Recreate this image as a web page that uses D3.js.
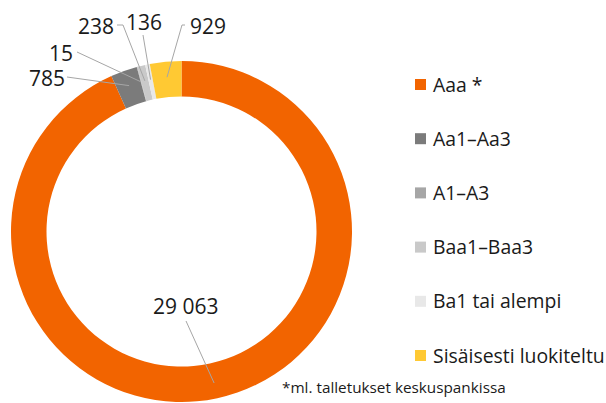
<!DOCTYPE html>
<html>
<head>
<meta charset="utf-8">
<script src="https://cdn.jsdelivr.net/npm/d3@7"></script>
<style>
  body { margin: 0; background: #fff; }
  text { font-family: "Open Sans", sans-serif; fill: #1a1a1a; }
</style>
</head>
<body>
<div id="chart"></div>
<script>
// data
var categories = ["Aaa *", "Aa1–Aa3", "A1–A3", "Baa1–Baa3", "Ba1 tai alempi", "Sisäisesti luokiteltu"];
var values = [29063, 785, 15, 238, 136, 929];
var colors = ["#f26400", "#7b7b7b", "#a6a6a6", "#c9c9c9", "#e8e8e8", "#ffc933"];
var footnote = "*ml. talletukset keskuspankissa";

// label layout (text start x, baseline y) and leader start points
var labelPos = [[153, 314], [29, 86], [49, 61], [78, 34], [126, 30], [190, 34]];
var leaderFrom = [
  [[186, 321]],
  [[67, 77]],
  [[77, 52]],
  [[117, 25], [123, 25]],
  [[143, 35]],
  [[185, 25], [182, 25]]
];

var svgWidth = 606;
var svgHeight = 403;
var cx = 181.5, cy = 231.5;
var outerR = 170.5, innerR = 135;

var svg = d3.select("#chart")
  .append("svg")
  .attr("width", svgWidth)
  .attr("height", svgHeight);

var fi = d3.formatLocale({decimal: ",", thousands: "\u00a0", grouping: [3], currency: ["", "€"]});
var fmt = fi.format(",d");

var pie = d3.pie().sort(null).value(d => d);
var arcs = pie(values);

var arc = d3.arc().innerRadius(innerR).outerRadius(outerR);
var pointArc = d3.arc().innerRadius(155).outerRadius(155);

var donut = svg.append("g")
  .attr("transform", `translate(${cx}, ${cy})`);

donut.selectAll("path")
  .data(arcs)
  .enter()
  .append("path")
  .attr("d", arc)
  .attr("fill", (d, i) => colors[i]);

// leader lines
var line = d3.line();
svg.append("g")
  .selectAll("path")
  .data(arcs)
  .enter()
  .append("path")
  .attr("d", (d, i) => {
    var c = pointArc.centroid(d);
    return line(leaderFrom[i].concat([[c[0] + cx, c[1] + cy]]));
  })
  .attr("fill", "none")
  .attr("stroke", "#a6a6a6")
  .attr("stroke-width", 1);

// value labels
svg.append("g")
  .selectAll("text")
  .data(values)
  .enter()
  .append("text")
  .attr("x", (d, i) => labelPos[i][0])
  .attr("y", (d, i) => labelPos[i][1])
  .style("font-size", "21px")
  .text(d => fmt(d));

// legend
var legend = svg.append("g")
  .attr("transform", "translate(415, 0)");

var legendY = d3.scalePoint()
  .domain(categories)
  .range([85, 356]);

var item = legend.selectAll("g")
  .data(categories)
  .enter()
  .append("g")
  .attr("transform", d => `translate(0, ${legendY(d)})`);

item.append("rect")
  .attr("x", 0)
  .attr("y", -6)
  .attr("width", 11)
  .attr("height", 11)
  .attr("fill", (d, i) => colors[i]);

item.append("text")
  .attr("x", 18)
  .attr("y", 6.5)
  .style("font-size", "19.4px")
  .text(d => d);

svg.append("text")
  .attr("x", 282)
  .attr("y", 393)
  .style("font-size", "15.3px")
  .text(footnote);
</script>
</body>
</html>
